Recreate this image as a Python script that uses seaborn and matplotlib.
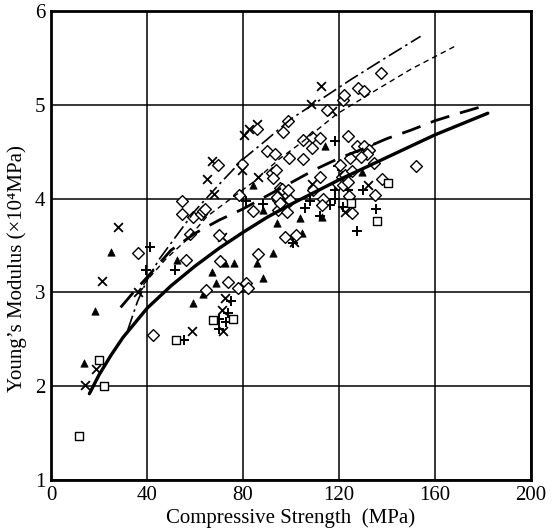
import numpy as np
import pandas as pd
import matplotlib
matplotlib.use("Agg")
import matplotlib.pyplot as plt
import seaborn as sns

# ---------------- data ----------------
cross_x = [14.2, 18.75, 21.1, 27.8, 36.1, 58.6, 71.8, 71.4, 72.5, 71.1, 64.9, 67.0, 68.0,
           79.7, 80.4, 82.6, 86.0, 86.4, 101.25, 108.6, 108.2, 112.4, 117.2, 132.9, 132.2, 122.5]
cross_y = [2.01, 2.18, 3.12, 3.70, 3.00, 2.59, 2.59, 2.81, 2.94, 3.59, 4.21, 4.40, 4.05,
           4.30, 4.68, 4.74, 4.79, 4.23, 3.54, 4.16, 5.01, 5.20, 4.93, 4.55, 4.15, 3.86]

plus_x = [39.6, 41.25, 51.7, 55.6, 75.0, 73.9, 70.0, 72.9, 70.1, 81.25, 88.2, 101.0, 105.8,
          107.9, 112.1, 116.25, 118.3, 118.3, 118.3, 119.7, 121.8, 123.9, 127.6, 130.1, 135.3]
plus_y = [3.24, 3.48, 3.24, 2.49, 2.91, 2.78, 2.72, 2.68, 2.61, 3.97, 3.94, 3.53, 3.90,
          3.97, 3.81, 3.93, 4.61, 4.09, 4.00, 4.35, 3.91, 4.09, 3.65, 4.09, 3.89]

square_x = [11.7, 22.2, 20.0, 52.1, 67.6, 76.0, 125.0, 135.7, 140.3]
square_y = [1.47, 2.00, 2.28, 2.49, 2.71, 2.72, 3.95, 3.76, 4.17]

tri_x = [13.75, 18.3, 25.0, 52.6, 59.3, 63.5, 67.2, 68.6, 72.5, 76.25, 85.7, 88.2, 92.6,
         94.0, 84.3, 88.5, 103.75, 104.5, 112.8, 114.2, 129.7]
tri_y = [2.25, 2.80, 3.43, 3.35, 2.89, 2.98, 3.22, 3.10, 3.31, 3.31, 3.31, 3.15, 3.42,
         3.74, 4.14, 3.88, 3.79, 3.63, 3.80, 4.56, 4.28]

dia_x = [36.1, 42.6, 54.4, 54.4, 57.9, 56.1, 59.3, 62.4, 63.2, 64.2, 64.4, 69.4, 70.1, 70.4,
         73.9, 77.8, 81.25, 81.9, 78.5, 79.7, 84.3, 86.4, 86.0, 89.9, 93.3, 96.5, 98.9, 99.3,
         92.0, 93.75, 92.6, 95.4, 97.5, 94.7, 98.2, 94.7, 98.5, 97.5, 102.1, 104.9, 105.1,
         108.6, 112.1, 108.6, 112.1, 109.3, 113.5, 112.8, 114.9, 121.5, 122.0, 128.0, 130.5,
         137.4, 123.9, 127.4, 130.5, 132.6, 131.5, 129.0, 124.6, 134.7, 151.9, 120.4, 121.1,
         119.7, 121.8, 122.5, 123.9, 125.3, 135.0, 138.0, 125.3, 99.6, 96.1, 98.9, 94.0, 95.4,
         124.3]
dia_y = [3.42, 2.55, 3.97, 3.84, 3.62, 3.35, 3.80, 3.84, 3.87, 3.89, 3.03, 4.36, 3.61, 3.33,
         3.11, 3.05, 3.10, 3.05, 4.04, 4.37, 3.87, 3.41, 4.74, 4.51, 4.48, 4.71, 4.83, 4.43,
         4.27, 4.30, 4.22, 4.11, 4.06, 3.99, 3.95, 3.88, 3.86, 3.59, 3.61, 4.42, 4.63,
         4.66, 4.65, 4.54, 4.23, 4.09, 4.00, 3.93, 4.94, 5.05, 5.10, 5.18, 5.15,
         5.34, 4.67, 4.56, 4.56, 4.52, 4.48, 4.44, 4.43, 4.38, 4.35, 4.36, 4.23,
         4.16, 4.14, 4.25, 4.18, 4.29, 4.04, 4.21, 3.85, 3.99, 4.10, 4.09, 4.02, 3.95,
         4.03]

# curves
solid_x = [16, 20, 25, 30, 40, 50, 60, 70, 80, 90, 100, 120, 140, 160, 182]
solid_y = [1.92, 2.12, 2.33, 2.52, 2.83, 3.07, 3.28, 3.47, 3.64, 3.80, 3.94, 4.20, 4.44, 4.68, 4.91]

dashed_x = [29, 35, 40, 50, 60, 70, 80, 90, 100, 110, 120, 130, 140, 150, 160, 170, 182]
dashed_y = [2.84, 3.02, 3.16, 3.45, 3.63, 3.77, 3.89, 4.03, 4.17, 4.31, 4.43, 4.53, 4.64, 4.73, 4.83, 4.91, 5.00]

dashdot_x = [32, 36, 40, 45, 51, 60, 70, 80, 90, 100, 112, 125, 140, 154]
dashdot_y = [2.60, 2.90, 3.13, 3.35, 3.56, 3.87, 4.15, 4.42, 4.63, 4.85, 5.05, 5.27, 5.51, 5.73]

thindash_x = [36, 40, 48, 56.5, 65, 75, 85, 95, 104, 119, 135, 150, 168]
thindash_y = [3.00, 3.13, 3.36, 3.56, 3.81, 4.00, 4.19, 4.42, 4.59, 4.90, 5.15, 5.38, 5.62]

x_ticks = [0, 40, 80, 120, 160, 200]
y_ticks = [1, 2, 3, 4, 5, 6]

# ---------------- plot ----------------
sns.set_theme(style="white")
plt.rcParams['font.family'] = ['Liberation Serif', 'DejaVu Serif']

fig = plt.figure(figsize=(5.58, 5.32), dpi=100)
ax = fig.add_axes([51/558, 52/532, 480/558, 469/532])

ax.set_xlim(0, 200)
ax.set_ylim(1, 6)
ax.set_xticks(x_ticks)
ax.set_yticks(y_ticks)
ax.grid(True, color='black', linewidth=1.1)
ax.set_axisbelow(True)

k = dict(ax=ax, legend=False, zorder=3)
sns.scatterplot(x=cross_x, y=cross_y, marker='x', s=40, color='black', linewidth=1.3, **k)
sns.scatterplot(x=plus_x, y=plus_y, marker='+', s=58, color='black', linewidth=1.4, **k)
sns.scatterplot(x=tri_x, y=tri_y, marker='^', s=28, color='black', edgecolor='black', linewidth=0.5, **k)
sns.scatterplot(x=dia_x, y=dia_y, marker='D', s=36, facecolor='white', edgecolor='black', linewidth=1.0, **k)
sns.scatterplot(x=square_x, y=square_y, marker='s', s=32, facecolor='white', edgecolor='black', linewidth=1.0, **k)

sns.lineplot(x=solid_x, y=solid_y, ax=ax, color='black', linewidth=2.4, sort=False, zorder=4)
sns.lineplot(x=dashed_x, y=dashed_y, ax=ax, color='black', linewidth=2.0, sort=False, zorder=4)
ax.lines[-1].set_dashes([7, 4])
sns.lineplot(x=dashdot_x, y=dashdot_y, ax=ax, color='black', linewidth=1.2, sort=False, zorder=4)
ax.lines[-1].set_dashes([9, 2.5, 1.5, 2.5])
sns.lineplot(x=thindash_x, y=thindash_y, ax=ax, color='black', linewidth=1.0, sort=False, zorder=4)
ax.lines[-1].set_dashes([4, 3])

for sp in ax.spines.values():
    sp.set_color('black')
    sp.set_linewidth(2.0)

ax.tick_params(axis='both', length=0, labelsize=15, colors='black', pad=4)
ax.set_xlabel('Compressive Strength  (MPa)', fontsize=15, color='black', labelpad=3)
ax.set_ylabel('Young\u2019s Modulus (\u00d710\u2074MPa)', fontsize=15, color='black')
ax.yaxis.set_label_coords(-0.05, 0.45)

fig.savefig('out.png', dpi=100, facecolor='white')
